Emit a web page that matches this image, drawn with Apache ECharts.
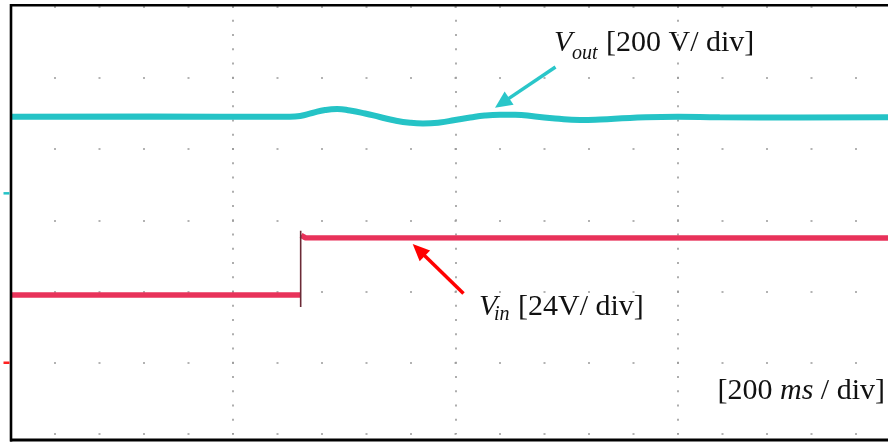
<!DOCTYPE html>
<html><head><meta charset="utf-8">
<script src="https://cdn.jsdelivr.net/npm/echarts@6/dist/echarts.min.js"></script>
<style>html,body{margin:0;padding:0;background:#fff}#c{width:888px;height:442px}</style>
</head><body><div id="c"></div>
<script>
// x: time in screen divisions (0..19.72 visible), y: vertical divisions (0..6)
const voutTime   = [0, 3.13, 6.28, 6.51, 6.78, 7.07, 7.34, 7.63, 7.97, 8.30, 8.64, 8.98, 9.27, 9.65, 9.99, 10.33, 10.66, 11.00, 11.34, 11.79, 12.24, 12.80, 13.25, 13.92, 15.00, 15.94, 17.74, 19.72];
const voutValues = [4.453, 4.456, 4.452, 4.463, 4.505, 4.547, 4.561, 4.540, 4.498, 4.449, 4.400, 4.368, 4.358, 4.372, 4.407, 4.442, 4.470, 4.480, 4.480, 4.456, 4.428, 4.407, 4.414, 4.435, 4.453, 4.445, 4.442, 4.445];
const vinLowTime   = [0, 6.515];
const vinLowValues = [1.951, 1.951];
const vinHighTime   = [6.53, 6.62, 19.72];
const vinHighValues = [2.79, 2.755, 2.751];
const vinEdgeTime   = [6.521, 6.521];
const vinEdgeValues = [1.782, 2.853];
const groundLevels = { vout: 3.378, vin: 1.0 };
const labels = {
  vout: ['V', 'out', '[200 V/ div]'],
  vin: ['V', 'in', '[24V/ div]'],
  time: ['[200 ', 'ms', ' / div]']
};

const zip = (t, v) => t.map((x, i) => [x, v[i]]);
const CYAN = '#25c3c6', RED = '#e8325a';
const chart = echarts.init(document.getElementById('c'), null, {renderer: 'canvas'});
const GL = 10.5, GT = 6.5, GW = 877.5, GH = 427.5;

chart.setOption({
  animation: false,
  backgroundColor: '#fff',
  grid: {left: GL, top: GT, width: GW, height: GH, show: false},
  xAxis: {
    type: 'value', min: 0, max: 19.72, interval: 5,
    axisLine: {show: false}, axisTick: {show: false}, axisLabel: {show: false},
    splitLine: {show: true, showMaxLine: false, lineStyle: {color: '#9a9a9a', width: 1.6, type: [2, 12.25], dashOffset: 1}}
  },
  yAxis: {
    type: 'value', min: 0, max: 6, interval: 1,
    axisLine: {show: false}, axisTick: {show: false}, axisLabel: {show: false},
    splitLine: {show: true, lineStyle: {color: '#9a9a9a', width: 1.6, type: [2, 42.5], dashOffset: 1}}
  },
  series: [
    {type: 'line', name: 'Vout', data: zip(voutTime, voutValues), smooth: 0.5, showSymbol: false,
     lineStyle: {color: CYAN, width: 6}, z: 3},
    {type: 'line', name: 'Vin', data: zip(vinLowTime, vinLowValues), showSymbol: false,
     lineStyle: {color: RED, width: 5.5}, z: 3},
    {type: 'line', name: 'Vin', data: zip(vinHighTime, vinHighValues), showSymbol: false,
     lineStyle: {color: RED, width: 5.5}, z: 3},
    {type: 'line', name: 'Vin edge', data: zip(vinEdgeTime, vinEdgeValues), showSymbol: false,
     lineStyle: {color: '#6b2a36', width: 1.6}, z: 4}
  ]
});

function arrow(x1, y1, x2, y2, color, w, hl, hw) {
  const dx = x2 - x1, dy = y2 - y1, L = Math.hypot(dx, dy);
  const ux = dx / L, uy = dy / L, px = -uy, py = ux;
  const bx = x2 - ux * hl, by = y2 - uy * hl;
  return [
    {type: 'line', shape: {x1, y1, x2: bx + ux * 2, y2: by + uy * 2}, style: {stroke: color, lineWidth: w}, z: 10},
    {type: 'polygon', shape: {points: [[x2, y2], [bx + px * hw / 2, by + py * hw / 2], [bx - px * hw / 2, by - py * hw / 2]]},
     style: {fill: color}, z: 10}
  ];
}
const serif = '"Liberation Serif", "DejaVu Serif", serif';
function txt(x, y, text, size, italic, align) {
  return {type: 'text', x, y, z: 11, style: {text, fill: '#111', fontFamily: serif, fontSize: size,
    fontStyle: italic ? 'italic' : 'normal', align: align || 'left', verticalAlign: 'middle'}};
}

const gOut = chart.convertToPixel({gridIndex: 0}, [0, groundLevels.vout]);
const gIn = chart.convertToPixel({gridIndex: 0}, [0, groundLevels.vin]);

chart.setOption({
  graphic: [
    // frame
    {type: 'line', shape: {x1: 11, y1: 4, x2: 11, y2: 441.5}, style: {stroke: '#000', lineWidth: 2.6}, z: 12},
    {type: 'line', shape: {x1: 10, y1: 5.3, x2: 890, y2: 5.3}, style: {stroke: '#000', lineWidth: 2.6}, z: 12},
    {type: 'line', shape: {x1: 10, y1: 440, x2: 890, y2: 440}, style: {stroke: '#000', lineWidth: 3}, z: 12},
    // ground markers
    {type: 'line', shape: {x1: 3.5, y1: gOut[1], x2: 9.5, y2: gOut[1]}, style: {stroke: CYAN, lineWidth: 2.5}, z: 12},
    {type: 'line', shape: {x1: 3.5, y1: gIn[1], x2: 9.5, y2: gIn[1]}, style: {stroke: '#ff2020', lineWidth: 2.5}, z: 12},
    ...arrow(555.5, 67, 495, 107.7, '#2ac6c9', 3.5, 17, 16),
    ...arrow(463.5, 293.5, 412.7, 244, '#ff0000', 3.5, 17, 15),
    txt(554, 43, labels.vout[0], 30, true),
    txt(572, 53.5, labels.vout[1], 20, true),
    txt(606, 43, labels.vout[2], 30, false),
    txt(479, 307, labels.vin[0], 30, true),
    txt(494, 315, labels.vin[1], 20, true),
    txt(518, 307, labels.vin[2], 30, false),
    {type: 'text', x: 885, y: 391, z: 11, style: {
      text: '{n|' + labels.time[0] + '}{i|' + labels.time[1] + '}{n|' + labels.time[2] + '}',
      align: 'right', verticalAlign: 'middle',
      rich: {n: {fontFamily: serif, fontSize: 30, fill: '#111'},
             i: {fontFamily: serif, fontSize: 30, fontStyle: 'italic', fill: '#111'}}}}
  ]
});
</script></body></html>
